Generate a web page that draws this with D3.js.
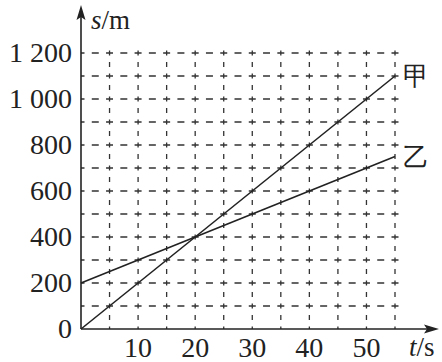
<!DOCTYPE html>
<html lang="zh">
<head>
  <meta charset="UTF-8">
  <title>s-t</title>
  <script src="https://cdn.jsdelivr.net/npm/d3@7/dist/d3.min.js"></script>
  <style>
    html, body { margin: 0; padding: 0; background: #fff; }
    svg { display: block; }
    text { fill: #222; font-family: "Liberation Serif", "DejaVu Serif", serif; }
  </style>
</head>
<body>
  <svg width="442" height="362"></svg>
  <script>
    // data
    const times = [0, 55]
    const jia = [0, 1100]      // 甲
    const yi = [200, 750]      // 乙
    const yTicks = [0, 200, 400, 600, 800, 1000, 1200]
    const yTickLabels = ['0', '200', '400', '600', '800', '1 000', '1 200']
    const xTicks = [10, 20, 30, 40, 50]
    const xGrid = [5, 10, 15, 20, 25, 30, 35, 40, 45, 50, 55]
    const yGrid = [100, 200, 300, 400, 500, 600, 700, 800, 900, 1000, 1100, 1200]

    const svg = d3.select('svg')
    const x = d3.scaleLinear().domain([0, 55]).range([81, 395])
    const y = d3.scaleLinear().domain([0, 1200]).range([329, 53])
    const ink = '#222'

    // dashed grid, dashes centred on the crossings
    const hPeriod = (x(5) - x(0)) / 2
    const vPeriod = (y(0) - y(100)) / 2
    const grid = svg.append('g').attr('stroke', '#333').attr('stroke-width', 1.3)

    grid.selectAll('.h')
      .data(yGrid)
      .enter()
      .append('line')
      .attr('x1', x(0)).attr('x2', x(55) + 3.5)
      .attr('y1', d => y(d)).attr('y2', d => y(d))
      .attr('stroke-dasharray', `7,${hPeriod - 7}`)
      .attr('stroke-dashoffset', 3.5)

    grid.selectAll('.v')
      .data(xGrid)
      .enter()
      .append('line')
      .attr('x1', d => x(d)).attr('x2', d => x(d))
      .attr('y1', y(0)).attr('y2', y(1200) - 2.5)
      .attr('stroke-dasharray', `5,${vPeriod - 5}`)
      .attr('stroke-dashoffset', 2.5)

    // axes with arrows
    svg.append('line')
      .attr('x1', x(0)).attr('x2', x(0))
      .attr('y1', y(0)).attr('y2', 12)
      .attr('stroke', ink).attr('stroke-width', 1.6)
    svg.append('path')
      .attr('d', `M${x(0)},5 L${x(0) - 4.5},20 L${x(0)},17 L${x(0) + 4.5},20 Z`)
      .attr('fill', ink)

    svg.append('line')
      .attr('x1', x(0)).attr('x2', 432)
      .attr('y1', y(0)).attr('y2', y(0))
      .attr('stroke', ink).attr('stroke-width', 1.6)
    svg.append('path')
      .attr('d', `M439,${y(0)} L424,${y(0) - 4.5} L427,${y(0)} L424,${y(0) + 4.5} Z`)
      .attr('fill', ink)

    // data lines
    const line = d3.line().x(d => x(d[0])).y(d => y(d[1]))
    const series = [
      { name: '甲', values: jia },
      { name: '乙', values: yi }
    ]
    svg.selectAll('.series')
      .data(series)
      .enter()
      .append('path')
      .attr('d', s => line(times.map((t, i) => [t, s.values[i]])))
      .attr('fill', 'none')
      .attr('stroke', ink)
      .attr('stroke-width', 1.6)

    svg.selectAll('.series-label')
      .data(series)
      .enter()
      .append('text')
      .attr('x', 403)
      .attr('y', s => y(s.values[s.values.length - 1]) + 9)
      .attr('font-family', '"Noto Sans CJK SC", sans-serif')
      .attr('font-size', 26)
      .text(s => s.name)

    // tick labels
    svg.selectAll('.ylab')
      .data(yTicks)
      .enter()
      .append('text')
      .attr('x', 72)
      .attr('y', d => y(d) + 9)
      .attr('text-anchor', 'end')
      .attr('font-size', 28)
      .text((d, i) => yTickLabels[i])

    svg.selectAll('.xlab')
      .data(xTicks)
      .enter()
      .append('text')
      .attr('x', d => x(d))
      .attr('y', 357)
      .attr('text-anchor', 'middle')
      .attr('font-size', 28)
      .text(d => d)

    // axis titles
    const sm = svg.append('text').attr('x', 91).attr('y', 29).attr('font-size', 27)
    sm.append('tspan').attr('font-style', 'italic').text('s')
    sm.append('tspan').text('/m')

    const ts = svg.append('text').attr('x', 409).attr('y', 356).attr('font-size', 27)
    ts.append('tspan').attr('font-style', 'italic').text('t')
    ts.append('tspan').text('/s')
  </script>
</body>
</html>
